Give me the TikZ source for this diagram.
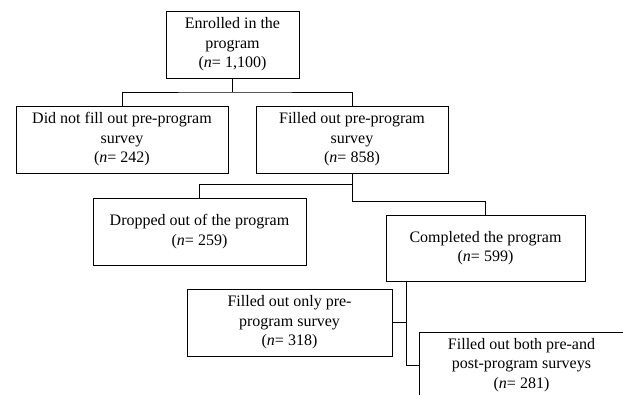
\documentclass[tikz,border=0pt]{standalone}
\usepackage{fontspec}
\setmainfont{Liberation Serif}
\usepackage{tikz}

\begin{document}
\begin{tikzpicture}[x=1pt,y=-1pt,line width=0.9pt,
    flowbox/.style={draw,rectangle,align=center,inner sep=0pt,
        font=\fontsize{16}{19.5}\selectfont}]
        \clip (0,0) rectangle (623,394);
        % boxes
        \node[flowbox,minimum width=133,minimum height=67] (enrolled) at (232.5,44.5)
            {Enrolled in the\\program\\(\textit{n}= 1,100)};
        \node[flowbox,minimum width=212,minimum height=67] (notfilled) at (122,139.5)
            {Did not fill out pre-program\\survey\\(\textit{n}= 242)};
        \node[flowbox,minimum width=192,minimum height=67] (filled) at (352,139.5)
            {Filled out pre-program\\survey\\(\textit{n}= 858)};
        \node[flowbox,minimum width=213,minimum height=67] (dropped) at (199.5,231.5)
            {Dropped out of the program\\(\textit{n}= 259)};
        \node[flowbox,minimum width=199,minimum height=66] (completed) at (485.5,248)
            {Completed the program\\(\textit{n}= 599)};
        \node[flowbox,minimum width=205,minimum height=67] (onlypre) at (289.5,322.5)
            {Filled out only pre-\\program survey\\(\textit{n}= 318)};
        \node[flowbox,minimum width=205,minimum height=66] (both) at (521.5,365)
            {Filled out both pre-and\\post-program surveys\\(\textit{n}= 281)};
        % lines
        \coordinate (fork1) at (232.5,92);
        \coordinate (fork2) at (352,184);
        \coordinate (fork3) at (352,201);
        \coordinate (trunk) at (406,0);
        \draw (enrolled.south) -- (fork1);
        \draw (notfilled.north) |- (fork1) -| (filled.north);
        \draw (filled.south) -- (fork3) -| (completed.north);
        \draw (fork2) -| (dropped.north);
        \draw (completed.south -| trunk) |- (both.west);
        \draw (onlypre.east) -- (onlypre.east -| trunk);
    \end{tikzpicture}
\end{document}
